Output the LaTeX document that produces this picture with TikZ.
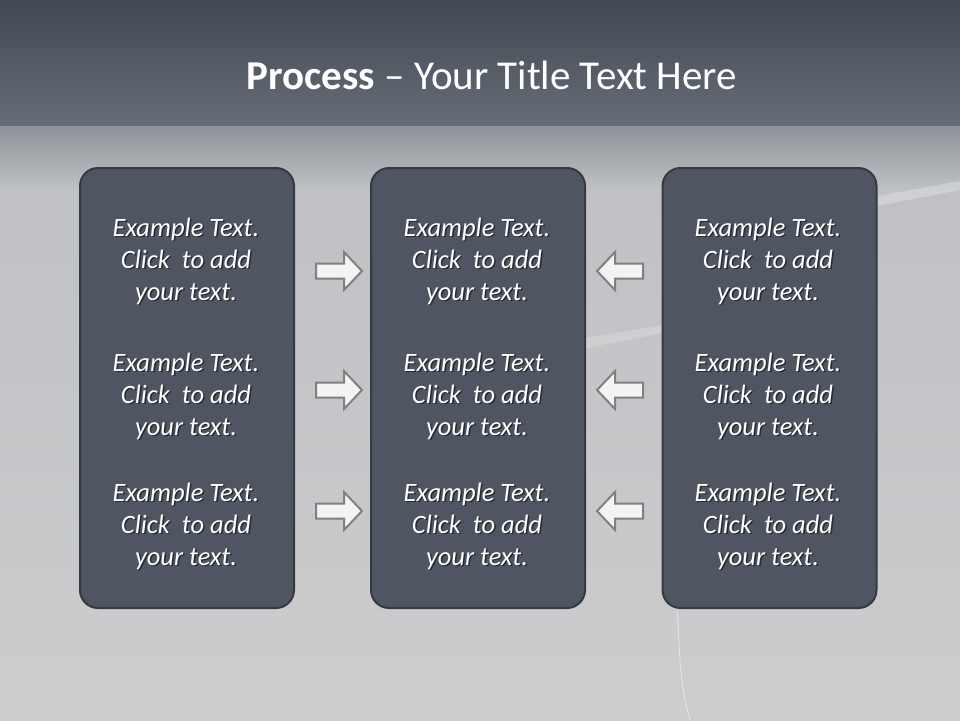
\documentclass[tikz,border=0pt]{standalone}
\usepackage{fontspec}
\setmainfont{Carlito}
\definecolor{hdtop}{HTML}{434952}
\definecolor{hdbot}{HTML}{676D78}
\definecolor{bgA}{HTML}{8E9298}
\definecolor{bgB}{HTML}{BFC1C4}
\definecolor{bgC}{HTML}{CDCDCF}
\definecolor{panel}{HTML}{4F5661}
\definecolor{panelline}{HTML}{353A41}
\definecolor{arrfill}{HTML}{F3F3F3}
\definecolor{arrline}{HTML}{808080}
\tikzset{
  panelbox/.style={draw=panelline, line width=2pt, fill=panel, rounded corners=18pt,
    minimum width=214pt, minimum height=440pt, inner sep=0pt},
  bodytext/.style={text=white, align=center, inner sep=0pt,
    font=\fontsize{26.5}{32}\selectfont\itshape},
  shadowtext/.style={bodytext, text=black, opacity=0.5},
  blockarrow/.style={fill=arrfill, draw=arrline, line width=2pt, line join=miter},
}
\newcommand{\exblock}[3]{%
  \node[shadowtext] at (#2+1.5,#3+1.8) {Example Text.\\Click\ \ to add\\your text.};
  \node[bodytext] (#1) at (#2,#3) {Example Text.\\Click\ \ to add\\your text.};
}
\newcommand{\rarrow}[1]{%
  \draw[blockarrow] ([shift={(-22,-7.5)}]#1) -- ([shift={(6,-7.5)}]#1) -- ([shift={(6,-19)}]#1)
    -- ([shift={(24,0)}]#1) -- ([shift={(6,19)}]#1) -- ([shift={(6,7.5)}]#1)
    -- ([shift={(-22,7.5)}]#1) -- cycle;
}
\newcommand{\larrow}[1]{%
  \draw[blockarrow] ([shift={(22,-7.5)}]#1) -- ([shift={(-6,-7.5)}]#1) -- ([shift={(-6,-19)}]#1)
    -- ([shift={(-24,0)}]#1) -- ([shift={(-6,19)}]#1) -- ([shift={(-6,7.5)}]#1)
    -- ([shift={(22,7.5)}]#1) -- cycle;
}
\begin{document}
\begin{tikzpicture}[x=1pt,y=-1pt]
\useasboundingbox (0,0) rectangle (960,720);
% background
\shade[top color=hdtop, bottom color=hdbot] (0,0) rectangle (960,126);
\shade[top color=bgA, bottom color=bgB] (0,126) rectangle (960,190);
\shade[top color=bgB, bottom color=bgC] (0,190) rectangle (960,720);
% faint background streaks
\fill[white, opacity=0.25] (877,196) -- (960,181) -- (960,190) -- (877,206) -- cycle;
\fill[white, opacity=0.2] (586,338) -- (663,325) -- (663,333) -- (586,348) -- cycle;
\draw[white, opacity=0.5, line width=0.8pt] (677,610) .. controls (680,640) and (678,680) .. (690,720);
% title
\node[text=white, inner sep=0pt, font=\fontsize{41}{48}\selectfont] (title) at (492,75)
  {\textbf{Process} – Your Title Text Here};
% panels
\node[panelbox] (p1) at (187,388) {};
\node[panelbox] (p2) at (478,388) {};
\node[panelbox] (p3) at (769.5,388) {};
% texts
\exblock{t11}{186}{261}
\exblock{t12}{186}{396}
\exblock{t13}{186}{526}
\exblock{t21}{477}{261}
\exblock{t22}{477}{396}
\exblock{t23}{477}{526}
\exblock{t31}{768}{261}
\exblock{t32}{768}{396}
\exblock{t33}{768}{526}
% arrows
\coordinate (ra1) at (338,271);
\coordinate (ra2) at (338,390);
\coordinate (ra3) at (338,511);
\coordinate (la1) at (621,271);
\coordinate (la2) at (621,390);
\coordinate (la3) at (621,511);
\rarrow{ra1}\rarrow{ra2}\rarrow{ra3}
\larrow{la1}\larrow{la2}\larrow{la3}
\end{tikzpicture}
\end{document}
